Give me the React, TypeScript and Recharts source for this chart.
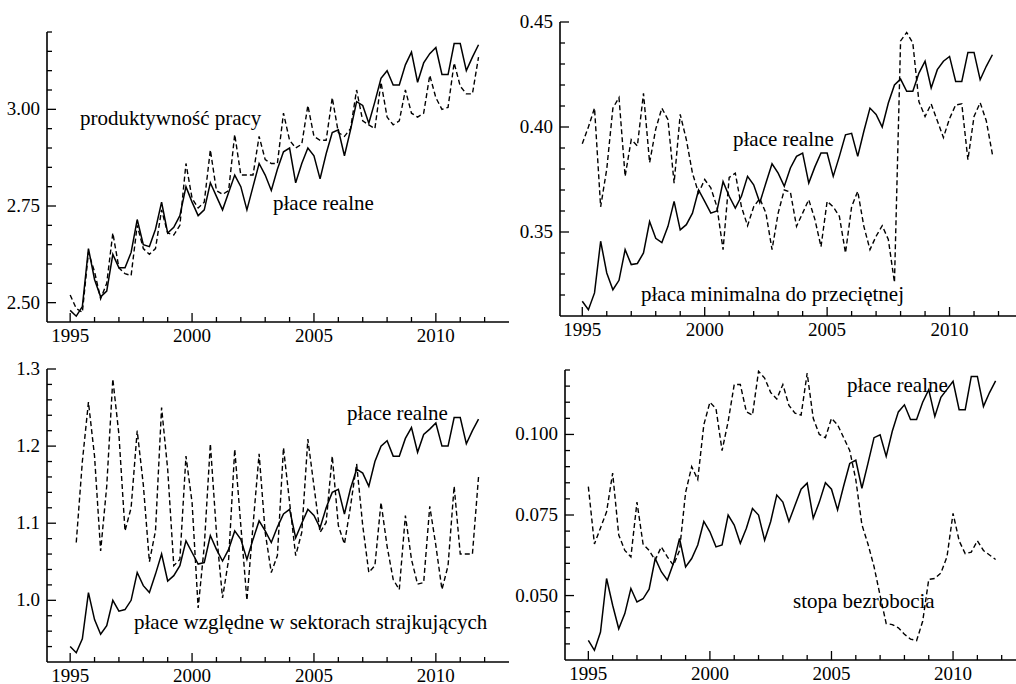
import React from "react";
import { LineChart, Line, XAxis, YAxis } from "recharts";

const years = [1995, 1996, 1997, 1998, 1999, 2000, 2001, 2002, 2003, 2004, 2005, 2006, 2007, 2008, 2009, 2010, 2011];
const quarterOffsets = [0, 0.25, 0.5, 0.75];

// top left: real wages vs labour productivity
const realWagesA = [
  2.48, 2.465, 2.49, 2.64,
  2.56, 2.515, 2.53, 2.625,
  2.59, 2.59, 2.63, 2.715,
  2.65, 2.645, 2.69, 2.76,
  2.68, 2.695, 2.725, 2.8,
  2.76, 2.725, 2.74, 2.81,
  2.775, 2.74, 2.785, 2.83,
  2.8, 2.74, 2.8, 2.86,
  2.83, 2.79, 2.845, 2.89,
  2.9, 2.81, 2.86, 2.9,
  2.88, 2.82, 2.885, 2.94,
  2.947, 2.88, 2.947, 3.02,
  3.01, 2.964, 3.02, 3.08,
  3.1, 3.063, 3.063, 3.115,
  3.148, 3.07, 3.12, 3.144,
  3.16, 3.09, 3.09, 3.17,
  3.17, 3.1, 3.135, 3.167,
];
const productivity = [
  2.52, 2.485, 2.475, 2.63,
  2.58, 2.51, 2.55, 2.68,
  2.59, 2.575, 2.57, 2.7,
  2.64, 2.625, 2.64, 2.74,
  2.68, 2.675, 2.7, 2.86,
  2.77, 2.745, 2.76, 2.895,
  2.79, 2.78, 2.79, 2.935,
  2.83, 2.83, 2.83, 2.93,
  2.87, 2.86, 2.86, 2.99,
  2.92, 2.9, 2.91, 3.01,
  2.93, 2.92, 2.92, 3.03,
  2.94, 2.93, 2.95, 3.05,
  2.97, 2.96, 2.95, 3.07,
  2.98, 2.96, 2.97, 3.05,
  2.99, 2.98, 2.99, 3.088,
  3.03, 3.0, 3.005, 3.12,
  3.06, 3.04, 3.04, 3.135,
];

// top right: real wages vs minimum to average wage
const realWagesB = [
  0.317, 0.313, 0.321, 0.3456,
  0.3305, 0.3225, 0.327, 0.3416,
  0.3345, 0.335, 0.34, 0.355,
  0.347, 0.345, 0.3527, 0.3646,
  0.351, 0.3535, 0.359, 0.37,
  0.3646, 0.359, 0.36, 0.374,
  0.367, 0.3614, 0.367, 0.3765,
  0.3725, 0.364, 0.3733, 0.3825,
  0.378, 0.3718, 0.3805, 0.386,
  0.3876, 0.3733, 0.381, 0.3876,
  0.3876, 0.3765, 0.386, 0.3963,
  0.397, 0.386, 0.398, 0.409,
  0.406, 0.4, 0.4114, 0.42,
  0.4228, 0.417, 0.417, 0.4257,
  0.4313, 0.4186, 0.4273, 0.4313,
  0.4336, 0.4217, 0.4217, 0.4355,
  0.4355, 0.4225, 0.4289, 0.4344,
];
const minWageRatio = [
  0.392, 0.4, 0.409, 0.362,
  0.38, 0.409, 0.414, 0.3765,
  0.394, 0.391, 0.416, 0.383,
  0.399, 0.409, 0.4035, 0.3733,
  0.406, 0.394, 0.378, 0.3686,
  0.375, 0.371, 0.362, 0.3416,
  0.376, 0.378, 0.362, 0.353,
  0.362, 0.366, 0.359, 0.3416,
  0.359, 0.37, 0.369, 0.3527,
  0.359, 0.3654, 0.356, 0.343,
  0.3646, 0.362, 0.3575, 0.34,
  0.362, 0.3694, 0.3527, 0.3416,
  0.348, 0.353, 0.3464, 0.326,
  0.441, 0.445, 0.44, 0.412,
  0.405, 0.411, 0.403, 0.395,
  0.404, 0.4105, 0.411, 0.3844,
  0.405, 0.4116, 0.403, 0.387,
];

// bottom left: real wages vs relative wages in striking sectors
const realWagesC = [
  0.94, 0.932, 0.95, 1.01,
  0.975, 0.956, 0.967, 1.0,
  0.986, 0.988, 1.0, 1.036,
  1.019, 1.01, 1.034, 1.06,
  1.025, 1.032, 1.045, 1.077,
  1.062, 1.047, 1.049, 1.084,
  1.066, 1.051, 1.066, 1.09,
  1.079, 1.053, 1.079, 1.103,
  1.09, 1.075, 1.095, 1.112,
  1.118, 1.081, 1.1, 1.118,
  1.11, 1.094, 1.12, 1.14,
  1.144, 1.112, 1.145, 1.17,
  1.165, 1.148, 1.18, 1.2,
  1.207, 1.187, 1.187, 1.21,
  1.224, 1.192, 1.215, 1.222,
  1.23, 1.2, 1.2, 1.237,
  1.237, 1.203, 1.22, 1.235,
];
const strikeWages = [
  null, 1.075, 1.18, 1.257,
  1.187, 1.064, 1.148, 1.287,
  1.215, 1.09, 1.12, 1.22,
  1.15, 1.05, 1.09, 1.25,
  1.17, 1.045, 1.053, 1.187,
  1.127, 0.99, 1.07, 1.203,
  1.088, 1.003, 1.053, 1.196,
  1.097, 1.0, 1.097, 1.19,
  1.088, 1.036, 1.058, 1.198,
  1.127, 1.058, 1.088, 1.209,
  1.148, 1.088, 1.101, 1.187,
  1.097, 1.073, 1.122, 1.177,
  1.097, 1.036, 1.045, 1.127,
  1.07, 1.027, 1.014, 1.11,
  1.053, 1.021, 1.023, 1.122,
  1.071, 1.014, 1.045, 1.148,
  1.06, 1.06, 1.06, 1.16,
];

// bottom right: real wages vs unemployment rate
const realWagesD = [
  0.0361, 0.033, 0.0387, 0.0553,
  0.047, 0.0397, 0.0444, 0.0522,
  0.048, 0.049, 0.052, 0.0615,
  0.0574, 0.0548, 0.06, 0.0677,
  0.0589, 0.0615, 0.0657, 0.073,
  0.0698, 0.0651, 0.0657, 0.075,
  0.0719, 0.0662, 0.0709, 0.077,
  0.075, 0.0672, 0.073, 0.0812,
  0.079, 0.073, 0.078, 0.083,
  0.0849, 0.074, 0.079, 0.085,
  0.083, 0.0766, 0.084, 0.091,
  0.092, 0.0833, 0.091, 0.099,
  0.0999, 0.0932, 0.101, 0.107,
  0.1092, 0.1046, 0.1046, 0.11,
  0.1139, 0.1056, 0.1115, 0.114,
  0.1165, 0.1077, 0.1077, 0.118,
  0.118, 0.1087, 0.113, 0.1166,
];
const unemployment = [
  0.0838, 0.066, 0.071, 0.076,
  0.088, 0.0688, 0.064, 0.062,
  0.079, 0.066, 0.064, 0.061,
  0.0651, 0.062, 0.0594, 0.064,
  0.082, 0.09, 0.086, 0.103,
  0.11, 0.108, 0.095, 0.104,
  0.1155, 0.1155, 0.107, 0.106,
  0.1196, 0.1175, 0.113, 0.111,
  0.1155, 0.109, 0.1066, 0.106,
  0.119, 0.105, 0.1, 0.099,
  0.105, 0.103, 0.099, 0.095,
  0.086, 0.072, 0.066, 0.059,
  0.05, 0.0413, 0.041, 0.04,
  0.038, 0.0365, 0.036, 0.042,
  0.055, 0.0553, 0.057, 0.062,
  0.0755, 0.067, 0.063, 0.0635,
  0.067, 0.064, 0.0626, 0.0612,
];

const yearTicks = [1995, 1996, 1997, 1998, 1999, 2000, 2001, 2002, 2003, 2004, 2005, 2006, 2007, 2008, 2009, 2010, 2011, 2012];
const yearLabels = [1995, 2000, 2005, 2010];

const ticksA = [2.5, 2.55, 2.6, 2.65, 2.7, 2.75, 2.8, 2.85, 2.9, 2.95, 3.0, 3.05, 3.1, 3.15, 3.2];
const labelsA = [2.5, 2.75, 3.0];
const ticksB = [0.32, 0.33, 0.34, 0.35, 0.36, 0.37, 0.38, 0.39, 0.4, 0.41, 0.42, 0.43, 0.44, 0.45];
const labelsB = [0.35, 0.4, 0.45];
const ticksC = [0.94, 0.96, 0.98, 1.0, 1.02, 1.04, 1.06, 1.08, 1.1, 1.12, 1.14, 1.16, 1.18, 1.2, 1.22, 1.24, 1.26, 1.28, 1.3];
const labelsC = [1.0, 1.1, 1.2, 1.3];
const ticksD = [0.035, 0.04, 0.045, 0.05, 0.055, 0.06, 0.065, 0.07, 0.075, 0.08, 0.085, 0.09, 0.095, 0.1, 0.105, 0.11, 0.115, 0.12];
const labelsD = [0.05, 0.075, 0.1];

const FONT = "Liberation Serif, DejaVu Serif, serif";
const textStyle = { fontFamily: FONT };

function buildRows(solid: (number | null)[], dashed: (number | null)[]) {
  const rows: { t: number; solid: number | null; dashed: number | null }[] = [];
  years.forEach((y, i) => {
    quarterOffsets.forEach((q, j) => {
      const k = i * 4 + j;
      rows.push({ t: y + q, solid: solid[k], dashed: dashed[k] });
    });
  });
  return rows;
}

const isIn = (list: number[], v: number) => list.some((m) => Math.abs(m - v) < 1e-6);

function YTick(props: any) {
  const { y, payload, axisX, labels, digits } = props;
  const v = payload.value;
  const major = isIn(labels, v);
  return (
    <g>
      <line x1={axisX} x2={axisX + (major ? 9 : 5)} y1={y} y2={y} stroke="#000" strokeWidth={1.3} />
      {major && (
        <text x={axisX - 7} y={y + 6} textAnchor="end" style={textStyle} fontSize={19} fill="#000">
          {v.toFixed(digits)}
        </text>
      )}
    </g>
  );
}

function XTick(props: any) {
  const { x, payload, axisY } = props;
  const v = payload.value;
  const major = isIn(yearLabels, v);
  return (
    <g>
      <line x1={x} x2={x} y1={axisY} y2={axisY - (major ? 9 : 5)} stroke="#000" strokeWidth={1.3} />
      {major && (
        <text x={x} y={axisY + 19.5} textAnchor="middle" style={textStyle} fontSize={19} fill="#000">
          {v}
        </text>
      )}
    </g>
  );
}

type PanelProps = {
  left: number;
  top: number;
  width: number;
  height: number;
  marginTop: number;
  yWidth: number;
  xHeight: number;
  xStart: number;
  yDomain: [number, number];
  yTicks: number[];
  yLabels: number[];
  digits: number;
  solid: (number | null)[];
  dashed: (number | null)[];
};

function Panel(p: PanelProps) {
  const rows = buildRows(p.solid, p.dashed);
  const axisY = p.height - p.xHeight;
  return (
    <div style={{ position: "absolute", left: p.left, top: p.top }}>
      <LineChart width={p.width} height={p.height} data={rows} margin={{ top: p.marginTop, right: 0, bottom: 0, left: 0 }}>
        <XAxis
          type="number"
          dataKey="t"
          domain={[p.xStart, 2013]}
          allowDataOverflow
          ticks={yearTicks}
          interval={0}
          height={p.xHeight}
          tickSize={0}
          tickLine={false}
          axisLine={{ stroke: "#000", strokeWidth: 1.6 }}
          tick={(tp: any) => <XTick {...tp} axisY={axisY} />}
        />
        <YAxis
          type="number"
          domain={p.yDomain}
          allowDataOverflow
          ticks={p.yTicks}
          interval={0}
          width={p.yWidth}
          tickSize={0}
          tickLine={false}
          axisLine={{ stroke: "#000", strokeWidth: 1.6 }}
          tick={(tp: any) => <YTick {...tp} axisX={p.yWidth} labels={p.yLabels} digits={p.digits} />}
        />
        <Line
          type="linear"
          dataKey="dashed"
          stroke="#000"
          strokeWidth={1.4}
          strokeDasharray="5 3"
          dot={false}
          isAnimationActive={false}
        />
        <Line type="linear" dataKey="solid" stroke="#000" strokeWidth={1.5} dot={false} isAnimationActive={false} />
      </LineChart>
    </div>
  );
}

const labelProps = { style: textStyle, fontSize: 21, fill: "#000" };

export default function App() {
  return (
    <div style={{ position: "absolute", left: 0, top: 0, width: 1016, height: 684, overflow: "hidden", background: "#fff" }}>
      <Panel
        left={0}
        top={0}
        width={509}
        height={344}
        marginTop={32}
        yWidth={47}
        xHeight={22}
        xStart={1994.05}
        yDomain={[2.45, 3.2]}
        yTicks={ticksA}
        yLabels={labelsA}
        digits={2}
        solid={realWagesA}
        dashed={productivity}
      />
      <Panel
        left={505}
        top={0}
        width={518}
        height={338}
        marginTop={22}
        yWidth={55}
        xHeight={22}
        xStart={1994.09}
        yDomain={[0.31, 0.45]}
        yTicks={ticksB}
        yLabels={labelsB}
        digits={2}
        solid={realWagesB}
        dashed={minWageRatio}
      />
      <Panel
        left={0}
        top={340}
        width={509}
        height={344}
        marginTop={29}
        yWidth={47}
        xHeight={22}
        xStart={1994.05}
        yDomain={[0.92, 1.3]}
        yTicks={ticksC}
        yLabels={labelsC}
        digits={1}
        solid={realWagesC}
        dashed={strikeWages}
      />
      <Panel
        left={510}
        top={340}
        width={516}
        height={344}
        marginTop={30}
        yWidth={55}
        xHeight={24}
        xStart={1994.04}
        yDomain={[0.03, 0.12]}
        yTicks={ticksD}
        yLabels={labelsD}
        digits={3}
        solid={realWagesD}
        dashed={unemployment}
      />
      <svg width={1016} height={684} style={{ position: "absolute", left: 0, top: 0, pointerEvents: "none" }}>
        <text x={80} y={125} {...labelProps}>produktywność pracy</text>
        <text x={273} y={210} {...labelProps}>płace realne</text>
        <text x={733} y={145.5} {...labelProps}>płace realne</text>
        <text x={641} y={301} {...labelProps}>płaca minimalna do przeciętnej</text>
        <text x={347} y={420} {...labelProps}>płace realne</text>
        <text x={134} y={628.5} {...labelProps}>płace względne w sektorach strajkujących</text>
        <text x={847} y={392} {...labelProps}>płace realne</text>
        <text x={793} y={608} {...labelProps}>stopa bezrobocia</text>
      </svg>
    </div>
  );
}
